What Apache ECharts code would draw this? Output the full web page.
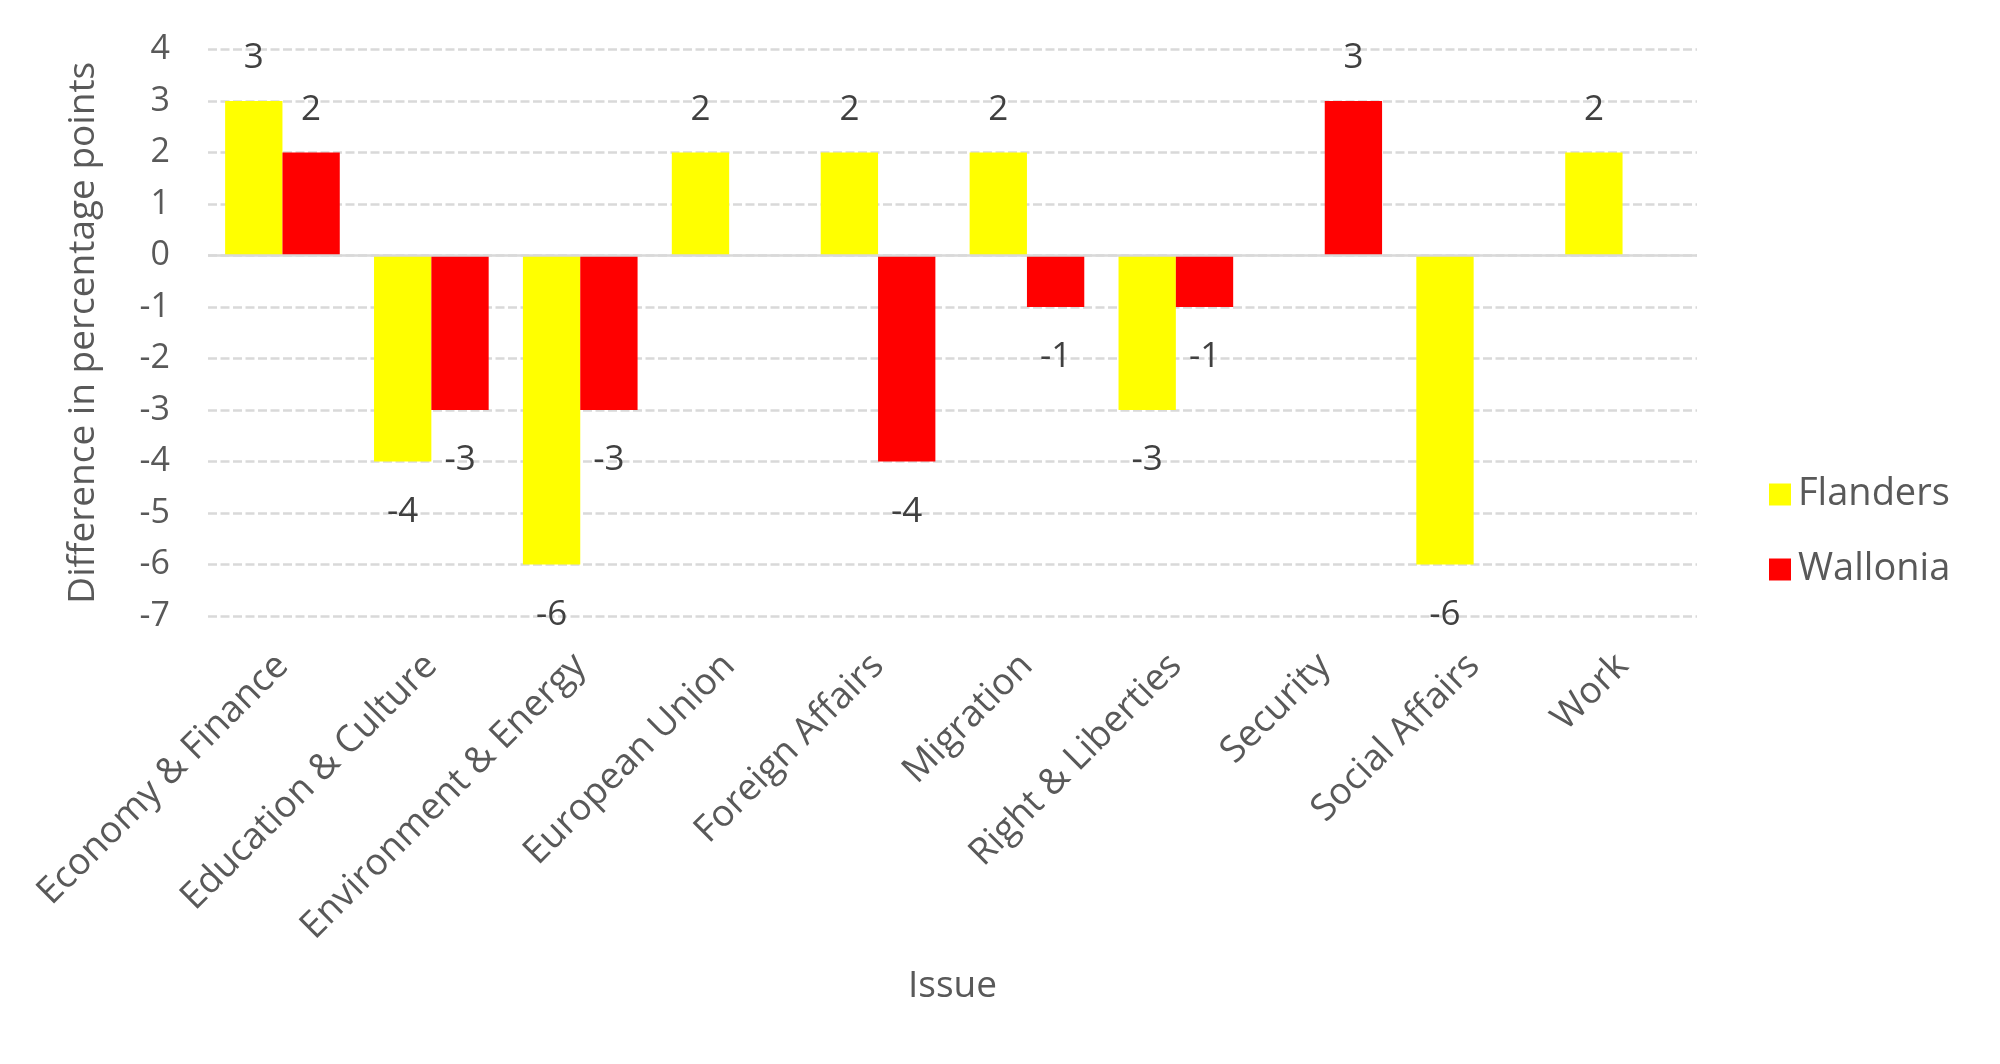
<!DOCTYPE html>
<html>
<head>
<meta charset="utf-8">
<script src="https://cdn.jsdelivr.net/npm/echarts@6/dist/echarts.min.js"></script>
<style>
html,body{margin:0;padding:0;background:#fff;}
#chart{width:2000px;height:1064px;}
</style>
</head>
<body>
<div id="chart"></div>
<script>
const categories = ["Economy & Finance","Education & Culture","Environment & Energy","European Union","Foreign Affairs","Migration","Right & Liberties","Security","Social Affairs","Work"];
const flanders = [3, -4, -6, 2, 2, 2, -3, null, -6, 2];
const wallonia = [2, -3, -3, null, -4, -1, -1, 3, null, null];
const yTicks = { min: -7, max: 4, interval: 1 };
const seriesNames = ["Flanders", "Wallonia"];

const FONT = "Open Sans";
const chart = echarts.init(document.getElementById('chart'), null, {renderer: 'canvas'});

function labelled(values) {
  return values.map(v => {
    if (v === null) return null;
    return {
      value: v,
      label: v >= 0
        ? {position: 'top', distance: 25}
        : {position: 'bottom', distance: 33}
    };
  });
}

const labelBase = {
  show: true,
  fontFamily: FONT,
  fontSize: 35,
  color: '#404040'
};

chart.setOption({
  animation: false,
  backgroundColor: '#ffffff',
  grid: {left: 208, right: 303, top: 49.5, bottom: 448, containLabel: false},
  legend: {
    orient: 'vertical',
    left: 1764,
    top: 'middle',
    padding: [11, 5, 5, 5],
    itemWidth: 22,
    itemHeight: 22,
    itemGap: 37,
    icon: 'rect',
    textStyle: {fontFamily: FONT, fontSize: 38, color: '#595959', padding: [0,0,0,2]},
    data: seriesNames
  },
  xAxis: {
    type: 'category',
    data: categories,
    name: 'Issue',
    nameLocation: 'middle',
    nameGap: 352,
    nameTextStyle: {fontFamily: FONT, fontSize: 37, color: '#595959'},
    axisLine: {show: false, onZero: false},
    axisTick: {show: false},
    axisLabel: {rotate: 45, margin: 44, fontFamily: FONT, fontSize: 37, color: '#595959', interval: 0},
    splitLine: {show: false}
  },
  yAxis: {
    type: 'value',
    min: yTicks.min,
    max: yTicks.max,
    interval: yTicks.interval,
    name: 'Difference in percentage points',
    nameLocation: 'middle',
    nameGap: 106,
    nameTextStyle: {fontFamily: FONT, fontSize: 37, color: '#595959'},
    axisLine: {show: false},
    axisTick: {show: false},
    axisLabel: {margin: 38, fontFamily: FONT, fontSize: 34, color: '#595959'},
    splitLine: {show: true, lineStyle: {color: '#d9d9d9', width: 2.5, type: [9, 3.5]}}
  },
  series: [
    {
      name: seriesNames[0],
      type: 'bar',
      data: labelled(flanders),
      itemStyle: {color: '#FFFF00'},
      barGap: '0%',
      barCategoryGap: '23%',
      label: labelBase,
      markLine: {
        silent: true,
        symbol: 'none',
        label: {show: false},
        lineStyle: {color: '#d9d9d9', width: 2.5, type: 'solid'},
        data: [{yAxis: 0}]
      }
    },
    {
      name: seriesNames[1],
      type: 'bar',
      data: labelled(wallonia),
      itemStyle: {color: '#FF0000'},
      barGap: '0%',
      barCategoryGap: '23%',
      label: labelBase
    }
  ]
});
</script>
</body>
</html>
